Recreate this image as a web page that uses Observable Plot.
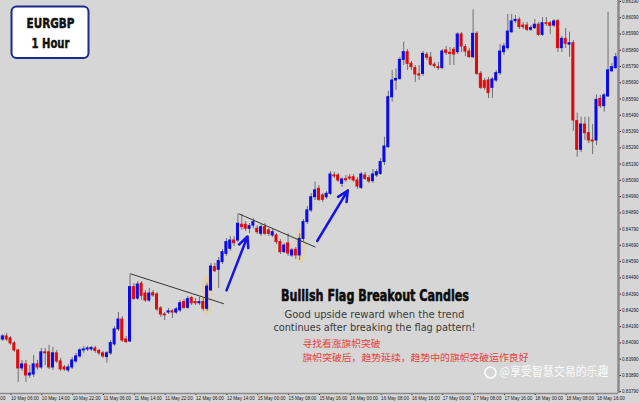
<!DOCTYPE html>
<html>
<head>
<meta charset="utf-8">
<script src="https://cdn.jsdelivr.net/npm/d3@7"></script>
<script src="https://cdn.jsdelivr.net/npm/@observablehq/plot@0.6"></script>
<style>
  html, body { margin: 0; padding: 0; background: #d6d6d6; }
  #chart { width: 640px; height: 403px; overflow: hidden; }
</style>
</head>
<body>
<div id="chart"></div>
<script>
// ---- Data (EURGBP, 1 hour bars) ----
const open = [
0.84111,0.84130,0.84118,0.84087,0.84044,0.83933,0.83958,0.83890,0.83896,0.83958,
0.83939,0.84032,0.84032,0.83939,0.84026,0.83976,0.83939,0.83921,0.83939,0.83976,
0.84007,0.84044,0.84050,0.84050,0.84056,0.84041,0.84026,0.84003,0.84026,0.84081,
0.84173,0.84234,0.84111,0.84099,0.84433,0.84363,0.84454,0.84394,0.84351,0.84396,
0.84388,0.84302,0.84265,0.84277,0.84284,0.84277,0.84290,0.84341,0.84306,0.84365,
0.84341,0.84334,0.84341,0.84300,0.84413,0.84556,0.84540,0.84587,0.84638,0.84669,
0.84720,0.84720,0.84817,0.84817,0.84792,0.84812,0.84792,0.84761,0.84802,0.84782,
0.84751,0.84751,0.84710,0.84648,0.84702,0.84628,0.84663,0.84628,0.84730,0.84833,
0.84905,0.84986,0.85038,0.84997,0.84986,0.85007,0.85120,0.85120,0.85069,0.85097,
0.85107,0.85109,0.85089,0.85044,0.85120,0.85103,0.85085,0.85120,0.85130,0.85202,
0.85294,0.85601,0.85704,0.85714,0.85831,0.85878,0.85807,0.85780,0.85741,0.85745,
0.85862,0.85844,0.85801,0.85786,0.85780,0.85889,0.85874,0.85893,0.85878,0.85987,
0.85909,0.85882,0.85847,0.85991,0.85745,0.85700,0.85704,0.85659,0.85704,0.85749,
0.85878,0.85903,0.86001,0.86069,0.86077,0.86042,0.86042,0.86016,0.86026,0.86047,
0.85985,0.86056,0.86056,0.86042,0.86069,0.85903,0.85960,0.85925,0.85933,0.85454,
0.85278,0.85433,0.85380,0.85335,0.85335,0.85591,0.85546,0.85606,0.85761,0.85780];
const high = [
0.84142,0.84149,0.84130,0.84099,0.84050,0.83982,0.83982,0.83951,0.84013,0.83982,
0.84056,0.84056,0.84075,0.84062,0.84044,0.83995,0.83951,0.83958,0.84001,0.84026,
0.84056,0.84069,0.84069,0.84069,0.84069,0.84050,0.84038,0.84038,0.84105,0.84191,
0.84277,0.84253,0.84130,0.84515,0.84456,0.84468,0.84468,0.84413,0.84425,0.84413,
0.84400,0.84314,0.84277,0.84302,0.84296,0.84308,0.84351,0.84357,0.84376,0.84376,
0.84363,0.84370,0.84363,0.84456,0.84579,0.84579,0.84615,0.84665,0.84732,0.84745,
0.84745,0.84884,0.84880,0.84837,0.84825,0.84855,0.84812,0.84818,0.84825,0.84794,
0.84788,0.84763,0.84726,0.84702,0.84761,0.84671,0.84677,0.84761,0.84849,0.84929,
0.85009,0.85079,0.85058,0.85009,0.85021,0.85144,0.85140,0.85132,0.85107,0.85120,
0.85126,0.85126,0.85107,0.85138,0.85138,0.85120,0.85157,0.85157,0.85224,0.85355,
0.85638,0.85766,0.85776,0.85847,0.85940,0.85895,0.85821,0.85796,0.85796,0.85882,
0.85876,0.85876,0.85815,0.85815,0.85895,0.85913,0.85907,0.85907,0.85999,0.85999,
0.85925,0.85901,0.86139,0.86005,0.85759,0.85716,0.85722,0.85722,0.85766,0.85925,
0.85932,0.86110,0.86110,0.86104,0.86091,0.86061,0.86061,0.86042,0.86079,0.86061,
0.86091,0.86091,0.86067,0.86079,0.86079,0.85975,0.86024,0.86001,0.85950,0.85503,
0.85478,0.85478,0.85478,0.85433,0.85616,0.85612,0.85624,0.86124,0.85807,0.85870];
const low = [
0.84099,0.84099,0.84075,0.84032,0.83847,0.83915,0.83847,0.83872,0.83878,0.83921,
0.83927,0.83951,0.83927,0.83921,0.83964,0.83915,0.83915,0.83908,0.83927,0.83964,
0.83995,0.84026,0.84038,0.84038,0.84026,0.84013,0.83995,0.83965,0.84013,0.84069,
0.84161,0.84093,0.84087,0.84093,0.84351,0.84351,0.84351,0.84339,0.84339,0.84370,
0.84284,0.84247,0.84228,0.84265,0.84240,0.84265,0.84277,0.84296,0.84296,0.84320,
0.84320,0.84320,0.84284,0.84284,0.84406,0.84523,0.84425,0.84572,0.84622,0.84653,
0.84683,0.84708,0.84782,0.84775,0.84763,0.84792,0.84757,0.84745,0.84751,0.84745,
0.84738,0.84696,0.84634,0.84640,0.84622,0.84615,0.84603,0.84597,0.84714,0.84818,
0.84892,0.84966,0.84960,0.84954,0.84972,0.84997,0.85101,0.85077,0.85046,0.85077,
0.85089,0.85077,0.85034,0.85034,0.85089,0.85071,0.85071,0.85107,0.85120,0.85181,
0.85286,0.85571,0.85643,0.85704,0.85796,0.85766,0.85766,0.85692,0.85704,0.85729,
0.85827,0.85790,0.85778,0.85766,0.85772,0.85858,0.85796,0.85796,0.85864,0.85876,
0.85852,0.85845,0.85839,0.85735,0.85649,0.85643,0.85593,0.85593,0.85692,0.85735,
0.85858,0.85889,0.85993,0.86055,0.86018,0.86018,0.86005,0.86005,0.86018,0.85975,
0.85975,0.86036,0.85987,0.86030,0.85876,0.85876,0.85901,0.85847,0.85392,0.85232,
0.85261,0.85335,0.85315,0.85249,0.85304,0.85532,0.85509,0.85600,0.85753,0.85772];
const close = [
0.84130,0.84111,0.84087,0.84044,0.83933,0.83958,0.83890,0.83902,0.83958,0.83939,
0.84032,0.84026,0.83939,0.84026,0.83976,0.83927,0.83927,0.83939,0.83982,0.84007,
0.84044,0.84050,0.84056,0.84059,0.84041,0.84026,0.84007,0.84026,0.84089,0.84173,
0.84234,0.84105,0.84095,0.84433,0.84361,0.84449,0.84380,0.84351,0.84394,0.84382,
0.84296,0.84265,0.84259,0.84284,0.84277,0.84296,0.84334,0.84306,0.84359,0.84334,
0.84334,0.84341,0.84300,0.84437,0.84560,0.84531,0.84593,0.84648,0.84710,0.84720,
0.84703,0.84823,0.84802,0.84792,0.84808,0.84833,0.84771,0.84802,0.84761,0.84761,
0.84771,0.84710,0.84648,0.84689,0.84640,0.84659,0.84628,0.84730,0.84833,0.84905,
0.84986,0.85028,0.84970,0.84970,0.85007,0.85126,0.85114,0.85089,0.85095,0.85091,
0.85101,0.85089,0.85052,0.85126,0.85099,0.85083,0.85126,0.85140,0.85202,0.85298,
0.85601,0.85704,0.85714,0.85831,0.85878,0.85807,0.85786,0.85741,0.85735,0.85868,
0.85844,0.85801,0.85792,0.85780,0.85882,0.85874,0.85868,0.85864,0.85987,0.85913,
0.85882,0.85847,0.85991,0.85745,0.85659,0.85659,0.85626,0.85710,0.85749,0.85882,
0.85913,0.86005,0.86067,0.86077,0.86032,0.86032,0.86016,0.86026,0.86047,0.85985,
0.86056,0.86053,0.86040,0.86067,0.85903,0.85960,0.85930,0.85933,0.85458,0.85278,
0.85433,0.85380,0.85335,0.85329,0.85585,0.85546,0.85612,0.85766,0.85786,0.85847];

const yTicks = [0.83790,0.83890,0.83990,0.84090,0.84190,0.84290,0.84390,0.84490,0.84590,
  0.84690,0.84790,0.84890,0.84990,0.85090,0.85190,0.85290,0.85390,0.85490,0.85590,
  0.85690,0.85790,0.85890,0.85990,0.86090,0.86190];
const xTickBars = [-6,2,10,18,26,34,42,50,58,66,74,82,90,98,106,114,122,130,138,146,154];
const xTickLabels = ["9 May 22:00","10 May 06:00","10 May 14:00","10 May 22:00","11 May 06:00",
  "11 May 14:00","11 May 22:00","12 May 06:00","12 May 14:00","15 May 00:00","15 May 08:00",
  "15 May 16:00","16 May 00:00","16 May 08:00","16 May 16:00","17 May 00:00","17 May 08:00",
  "17 May 16:00","18 May 00:00","18 May 08:00","18 May 16:00"];

const titleLines = ["EURGBP", "1 Hour"];
const headline = ["Bullish Flag Breakout Candles"];
const subLines = ["Good upside reward when the trend", "continues after breaking the flag pattern!"];
const cnLines = ["寻找看涨旗帜突破", "旗帜突破后，趋势延续，趋势中的旗帜突破运作良好"];
const watermark = ["@享受智慧交易的乐趣"];

// flag lines and arrows (bar index, price)
const flagLines = [
  {x1: 33.13, y1: 0.84515, x2: 57.33, y2: 0.84331},
  {x1: 61.22, y1: 0.84884, x2: 81.12, y2: 0.84679}
];
const arrows = [
  {x1: 58.03, y1: 0.84413, x2: 63.48, y2: 0.84745},
  {x1: 81.56, y1: 0.84717, x2: 89.49, y2: 0.85028}
];
const highlights = [{bar: 53.1, price: 0.84382, rx: 5.5, ry: 20}, {bar: 77.35, price: 0.84683, rx: 5.5, ry: 17}];

const candles = open.map((o, k) => ({i: k, open: o, high: high[k], low: low[k], close: close[k]}));
const labelMap = new Map(xTickBars.map((b, k) => [b, xTickLabels[k]]));
const bodyColor = d => d.close >= d.open ? "#0a0ae8" : "#e00a0a";

const plot = Plot.plot({
  width: 640, height: 403,
  marginTop: 0, marginRight: 22, marginBottom: 10, marginLeft: 0,
  x: {domain: [-0.597, 159.71]},
  y: {domain: [0.83779, 0.86196]},
  style: {background: "#d6d6d6", fontFamily: "'Liberation Sans', Arial, sans-serif", fontSize: "4.6px", color: "#222"},
  marks: [
    Plot.axisY(yTicks, {anchor: "right", tickSize: 2, tickPadding: 1.5, tickFormat: d => d.toFixed(5)}),
    Plot.axisX(xTickBars, {anchor: "bottom", tickSize: 2, tickPadding: 1, textAnchor: "start", dx: 0.5, tickFormat: d => labelMap.get(d)}),
    Plot.ruleX(candles, {x: "i", y1: "low", y2: "high", stroke: "#6f6f6f", strokeWidth: 1}),
    Plot.rect(candles, {x1: d => d.i - 0.26, x2: d => d.i + 0.26, y1: "open", y2: "close", fill: bodyColor, stroke: bodyColor, strokeWidth: 1}),
    Plot.link(flagLines, {x1: "x1", y1: "y1", x2: "x2", y2: "y2", stroke: "#333", strokeWidth: 1}),
    Plot.arrow(arrows, {x1: "x1", y1: "y1", x2: "x2", y2: "y2", stroke: "#1414e6", strokeWidth: 2.5, headLength: 7, headAngle: 50}),
    Plot.ruleX([159.71], {stroke: "#8a8a8a", strokeWidth: 2.5}),
    Plot.ruleY([0.83779], {stroke: "#8a8a8a", strokeWidth: 1.5}),
    Plot.rect([0], {x1: [2.39], x2: [22.36], y1: [0.85839], y2: [0.86156], fill: "white", stroke: "#1c2a8c", strokeWidth: 2, rx: 5}),
    Plot.text(titleLines, {x: [12.37, 12.37], y: [0.86053, 0.85930], text: d => d, fontSize: 14, fontWeight: "bold", fontFamily: "'DejaVu Sans', sans-serif", fill: "#111", stroke: "#111", strokeWidth: 0.5, textAnchor: "middle", lineAnchor: "middle"}),
    Plot.text(headline, {x: [96.55], y: [0.84379], text: d => d, fontSize: 16, fontWeight: "bold", fontFamily: "'DejaVu Sans', sans-serif", fill: "#0d0d0d", stroke: "#0d0d0d", strokeWidth: 0.6, textAnchor: "middle", lineAnchor: "middle"}),
    Plot.text(subLines, {x: [96.4, 96.4], y: [0.84263, 0.84185], text: d => d, fontSize: 11, fontFamily: "'DejaVu Sans', sans-serif", fill: "#3a3a3a", textAnchor: "middle", lineAnchor: "middle"}),
    Plot.text(cnLines, {x: [77.74, 77.74], y: [0.84083, 0.83995], text: d => d, fontSize: 9.5, fontFamily: "'Noto Sans CJK SC', sans-serif", fill: "#e8403a", textAnchor: "start", lineAnchor: "middle"}),
    Plot.dot([0], {x: [126.5], y: [0.83908], r: 5.5, stroke: "white", strokeWidth: 1.6, fill: "none", strokeOpacity: 0.9}),
    Plot.text(watermark, {x: [128.85], y: [0.83908], text: d => d, fontSize: 12, fontFamily: "'Noto Sans CJK SC', sans-serif", fill: "white", fillOpacity: 0.92, textAnchor: "start", lineAnchor: "middle"})
  ]
});

// fit annotation text widths (text mark groups in order: title, headline, sub, cn, watermark)
const textGroups = plot.querySelectorAll('g[aria-label="text"]');
const lengths = [[48, 38], [188], [180, 202], [78, 226], [109]];
textGroups.forEach((grp, gi) => {
  const L = lengths[gi];
  if (!L) return;
  grp.querySelectorAll("text").forEach((t, k) => {
    if (L[k] == null) return;
    t.setAttribute("textLength", L[k]);
    t.setAttribute("lengthAdjust", "spacingAndGlyphs");
  });
});

// translucent highlight ellipses behind the breakout candles, placed with Plot's scales
const sx = plot.scale("x"), sy = plot.scale("y");
const wicks = plot.querySelector('g[aria-label="rule"]');
const g = document.createElementNS("http://www.w3.org/2000/svg", "g");
for (const h of highlights) {
  const e = document.createElementNS("http://www.w3.org/2000/svg", "ellipse");
  e.setAttribute("cx", sx.apply(h.bar));
  e.setAttribute("cy", sy.apply(h.price));
  e.setAttribute("rx", h.rx);
  e.setAttribute("ry", h.ry);
  e.setAttribute("fill", "#e8cf98");
  e.setAttribute("fill-opacity", "0.65");
  g.appendChild(e);
}
if (wicks) wicks.parentNode.insertBefore(g, wicks); else plot.appendChild(g);

document.getElementById("chart").appendChild(plot);
</script>
</body>
</html>
